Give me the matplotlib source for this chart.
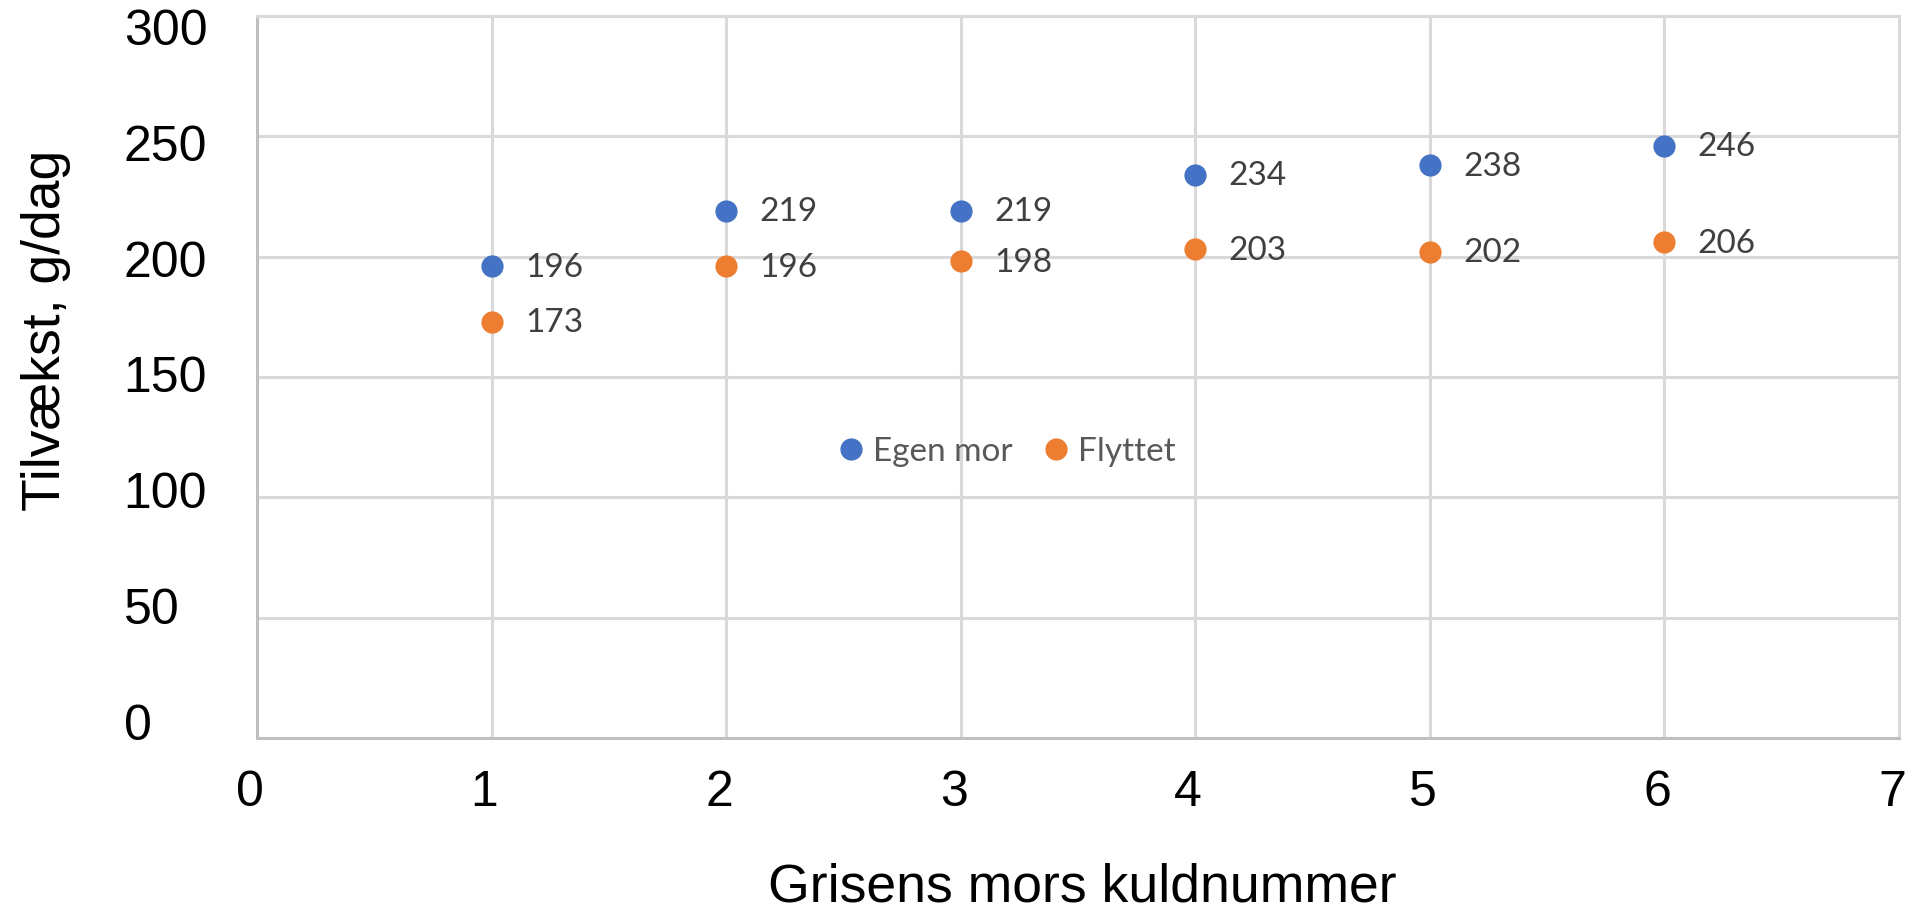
import matplotlib.pyplot as plt
from matplotlib.transforms import ScaledTranslation

# Data
kuld = [1, 2, 3, 4, 5, 6]
egen_mor = [196, 219, 219, 234, 238, 246]
flyttet = [173, 196, 198, 203, 202, 206]
serie_navne = ['Egen mor', 'Flyttet']
farver = ['#4472C4', '#ED7D31']
y_ticks = [0, 50, 100, 150, 200, 250, 300]
x_ticks = [0, 1, 2, 3, 4, 5, 6, 7]

plt.rcParams['font.family'] = ['Liberation Sans', 'DejaVu Sans']
W, H = 1909, 910

fig = plt.figure(figsize=(W / 100, H / 100), dpi=100)
ax = fig.add_axes([257 / W, 1 - 738 / H, 1642 / W, 722 / H])

for vals, navn, farve in zip([egen_mor, flyttet], serie_navne, farver):
    ax.plot(kuld, vals, 'o', color=farve, markersize=16, label=navn,
            markeredgewidth=0, zorder=3)
    for x, y in zip(kuld, vals):
        ax.annotate(str(y), (x, y), xytext=(24, -1), textcoords='offset points',
                    va='center', ha='left', fontsize=24, color='#404040',
                    family=['Lato', 'DejaVu Sans'])

ax.set_xlim(0, 7)
ax.set_ylim(0, 300)
ax.set_xticks(x_ticks)
ax.set_yticks(y_ticks)
ax.set_yticklabels([])
ax.grid(True, color='#D9D9D9', linewidth=2.2)
ax.set_axisbelow(True)
for side in ['top', 'right']:
    ax.spines[side].set_color('#D9D9D9')
    ax.spines[side].set_linewidth(2.2)
for side in ['left', 'bottom']:
    ax.spines[side].set_color('#BFBFBF')
    ax.spines[side].set_linewidth(2.2)
ax.tick_params(length=0, labelsize=36)
ax.tick_params(axis='x', pad=23)
# x-etiketter lidt til venstre som i originalen
forskyd = ScaledTranslation(-7 / 100, 0, fig.dpi_scale_trans)
for lbl in ax.get_xticklabels():
    lbl.set_transform(lbl.get_transform() + forskyd)

# y-etiketter sidder lidt tættere end gitterlinjerne i originalen
ax_lbl = fig.add_axes([257 / W, 1 - 727 / H, 1642 / W, 695 / H])
ax_lbl.set_ylim(0, 300)
ax_lbl.set_yticks(y_ticks)
ax_lbl.set_xticks([])
ax_lbl.patch.set_visible(False)
for s in ax_lbl.spines.values():
    s.set_visible(False)
ax_lbl.tick_params(length=0, labelsize=36, pad=96)
for lbl in ax_lbl.get_yticklabels():
    lbl.set_ha('left')
    lbl.set_va('center')

fig.text(1082 / W, 1 - 902 / H, 'Grisens mors kuldnummer', fontsize=38.5,
         ha='center', va='baseline')
fig.text(60 / W, 1 - 330 / H, 'Tilvækst, g/dag', fontsize=38.5, rotation=90,
         rotation_mode='anchor', ha='center', va='baseline')

leg = ax.legend(loc='center', bbox_to_anchor=(0.457, 0.396), ncol=2, frameon=False,
                prop={'family': ['Lato', 'DejaVu Sans'], 'size': 24},
                handlelength=0.7, handletextpad=0.3, columnspacing=0.95)
for t in leg.get_texts():
    t.set_color('#595959')

fig.savefig('out.png', dpi=100)
